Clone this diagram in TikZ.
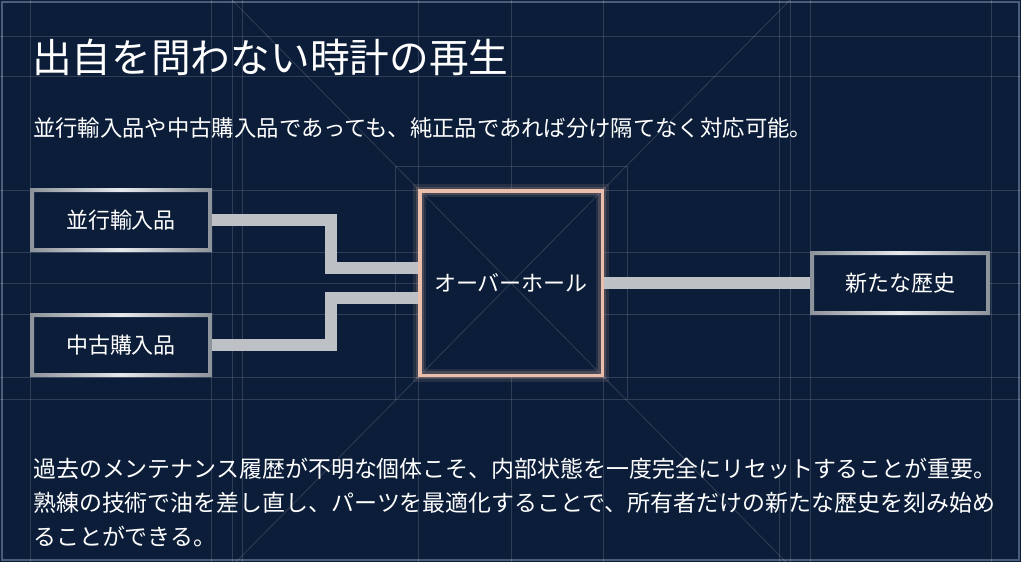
\documentclass[tikz,border=0pt]{standalone}
\usepackage{fontspec}
\setmainfont{Noto Sans CJK JP}
\definecolor{navy}{HTML}{0B1D38}
\definecolor{silverdk}{HTML}{8C9299}
\definecolor{silverlt}{HTML}{E6E9EC}
\definecolor{pipecol}{HTML}{BDC1C5}
\definecolor{peach}{HTML}{EBBDAB}
\definecolor{framecol}{HTML}{4C5D7A}
\begin{document}
\begin{tikzpicture}[x=1pt,y=-1pt,
  grid/.style={white,opacity=0.15,line width=0.8pt},
  box/.style={fill=navy,minimum width=182pt,minimum height=64pt,inner sep=0pt,outer sep=0pt,
    text=white,font=\fontsize{22}{26}\selectfont},
  hub/.style={draw=peach,line width=3.5pt,minimum width=182.5pt,minimum height=184.5pt,inner sep=0pt,
    text=white,font=\fontsize{22}{26}\selectfont,
    postaction={draw=peach,line width=13pt,opacity=0.12},
    postaction={draw=peach,line width=8pt,opacity=0.18}},
  pipe/.style={pipecol,line width=12pt}]
\fill[navy] (0,0) rectangle (1021,562);
\useasboundingbox (0,0) rectangle (1021,562);
\draw[framecol,line width=1.5pt] (2,2) rectangle (1019,560);
% guide lines
\foreach \x in {30,211,232,242,418,603,779,790,810,991}
  \draw[grid] (\x,0) -- (\x,562);
\draw[grid] (511,0) -- (511,190) (511,377) -- (511,562);
\foreach \y in {36,76,190,377,399}
  \draw[grid] (0,\y) -- (1021,\y);
\foreach \y in {252,283,314}
  \draw[grid] (0,\y) -- (418,\y) (604,\y) -- (1021,\y);
\draw[grid] (395,399) -- (395,166) -- (627,166) -- (627,399);
\draw[grid] (232,0) -- (786,562);
\draw[grid] (790,0) -- (236,562);
% texts
\node[anchor=west,inner sep=0pt,text=white,font=\fontsize{39.7}{44}\selectfont] (title) at (32,57) {出自を問わない時計の再生};
\node[anchor=west,inner sep=0pt,text=white,font=\fontsize{22.35}{26}\selectfont] (lead) at (33,128) {並行輸入品や中古購入品であっても、純正品であれば分け隔てなく対応可能。};
\node[anchor=west,inner sep=0pt,align=left,text=white,font=\fontsize{22.95}{34}\selectfont] (body) at (33,502)
  {過去のメンテナンス履歴が不明な個体こそ、内部状態を一度完全にリセットすることが重要。\\
   熟練の技術で油を差し直し、パーツを最適化することで、所有者だけの新たな歴史を刻み始め\\
   ることができる。};
% boxes
\node[box] (par) at (121,220) {並行輸入品};
\node[box] (used) at (121,345) {中古購入品};
\node[hub] (ovh) at (511,283) {オーバーホール};
\node[box,minimum width=180pt] (hist) at (900,283) {新たな歴史};
\foreach \n in {par,used,hist}
  \shade[left color=silverdk,right color=silverdk,middle color=silverlt,even odd rule]
    (\n.north west) rectangle (\n.south east)
    ([shift={(4pt,-4pt)}]\n.north west) rectangle ([shift={(-4pt,4pt)}]\n.south east);
% connectors
\draw[pipe] (par.east) -- ++(119,0) |- ([yshift=15pt]ovh.west);
\draw[pipe] (used.east) -- ++(119,0) |- ([yshift=-15pt]ovh.west);
\draw[pipe] (ovh.east) -- (hist.west);
\end{tikzpicture}
\end{document}
